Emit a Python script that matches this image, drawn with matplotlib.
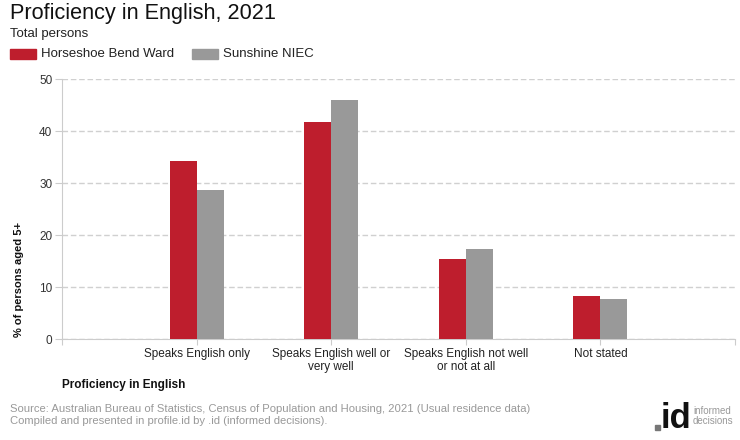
import matplotlib
matplotlib.use("Agg")
import matplotlib.pyplot as plt
import numpy as np
from matplotlib.patches import Rectangle

plt.rcParams['font.family'] = ['Liberation Sans', 'DejaVu Sans']

categories = ["Speaks English only", "Speaks English well or\nvery well",
              "Speaks English not well\nor not at all", "Not stated"]
series_names = ["Horseshoe Bend Ward", "Sunshine NIEC"]
horseshoe = [34.4, 41.9, 15.4, 8.3]
sunshine = [28.8, 46.0, 17.3, 7.7]
colors = ["#BE1E2D", "#999999"]
yticks = [0, 10, 20, 30, 40, 50]

fig = plt.figure(figsize=(7.4, 4.4), dpi=100)
ax = fig.add_axes([62/740, 1-339.3/440, (735-62)/740, (339.3-79.5)/440])

x = np.arange(len(categories))
w = 0.2
ax.bar(x - w/2, horseshoe, w, color=colors[0], zorder=3)
ax.bar(x + w/2, sunshine, w, color=colors[1], zorder=3)

ax.set_xlim(-1, 4)
ax.set_ylim(0, 50)
ax.set_yticks(yticks)
ax.set_yticklabels([str(t) for t in yticks], fontsize=8.5, color="#333333")
ax.set_xticks(np.arange(-1, 5))
ax.set_xticklabels([""] + categories + [""], fontsize=8.5, color="#222222")
ax.tick_params(axis='x', length=4, color="#cccccc", pad=2)
ax.tick_params(axis='y', length=5, color="#cccccc", pad=2)
ax.grid(axis='y', color="#d0d0d0", linestyle=(0, (4, 2)), linewidth=1, zorder=0)
ax.xaxis.grid(False)
for s in ["top", "right"]:
    ax.spines[s].set_visible(False)
ax.spines["left"].set_color("#cccccc")
ax.spines["bottom"].set_color("#cccccc")

ax.set_ylabel("% of persons aged 5+", fontsize=8.0, fontweight="bold", color="#111111")
ax.yaxis.set_label_coords(-0.0565, 0.232)

fig.text(10/740, 1-14/440, "Proficiency in English, 2021", fontsize=15.6, va="center", ha="left", color="#111111")
fig.text(10/740, 1-34/440, "Total persons", fontsize=9.5, va="center", ha="left", color="#222222")

# legend
for i, (name, c) in enumerate(zip(series_names, colors)):
    x0 = [10, 192][i]
    fig.patches.append(Rectangle((x0/740, 1-59/440), 26/740, 10/440, transform=fig.transFigure,
                                 color=c, figure=fig))
    fig.text((x0+31)/740, 1-54/440, name, fontsize=9.5, va="center", ha="left", color="#222222")

fig.text(62/740, 1-385/440, "Proficiency in English", fontsize=8.45, fontweight="bold", va="center", ha="left", color="#111111")
fig.text(10/740, 1-409/440, "Source: Australian Bureau of Statistics, Census of Population and Housing, 2021 (Usual residence data)",
         fontsize=8.15, va="center", ha="left", color="#999999")
fig.text(10/740, 1-421/440, "Compiled and presented in profile.id by .id (informed decisions).",
         fontsize=8.15, va="center", ha="left", color="#999999")

# logo
fig.patches.append(Rectangle((655/740, 1-430/440), 5/740, 5/440, transform=fig.transFigure,
                             color="#777777", figure=fig))
fig.text(661/740, 1-418/440, "id", fontsize=25, fontweight="bold", va="center", ha="left", color="#111111")
fig.text(693/740, 1-416/440, "informed\ndecisions", fontsize=7, va="center", ha="left", color="#999999", linespacing=1.0)

fig.savefig("out.png", dpi=100)
